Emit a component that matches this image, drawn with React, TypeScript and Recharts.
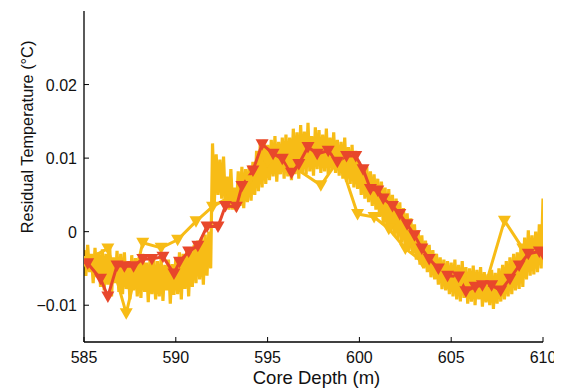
import React from 'react';
import { LineChart, Line, XAxis, YAxis } from 'recharts';

// Red series (triangle-down markers)
const redDepth = [585.2, 585.9, 586.3, 586.8, 587.2, 587.7, 588.2, 588.7, 589.3, 589.9, 590.2, 590.7, 591.2, 591.7, 592.3, 592.7, 593.3, 593.6, 594.2, 594.7, 595.3, 595.8, 596.3, 596.7, 597.2, 597.7, 598.3, 598.8, 599.3, 599.8, 600.2, 600.6, 601.0, 601.3, 601.8, 602.2, 602.6, 603.0, 603.4, 603.8, 604.3, 604.8, 605.4, 605.8, 606.3, 606.7, 607.2, 607.7, 608.2, 608.7, 609.2, 609.8, 610.0];
const redTemp = [-0.0043, -0.0064, -0.0088, -0.0046, -0.0047, -0.0047, -0.0037, -0.0037, -0.0034, -0.0057, -0.0041, -0.0027, -0.0019, 0.0007, 0.0007, 0.0035, 0.0034, 0.0062, 0.0083, 0.0119, 0.0106, 0.0099, 0.0080, 0.0092, 0.0115, 0.0106, 0.0110, 0.0095, 0.0103, 0.0103, 0.0085, 0.0058, 0.0056, 0.0045, 0.0035, 0.0024, 0.0010, -0.0005, -0.0023, -0.0037, -0.0050, -0.0060, -0.0061, -0.0081, -0.0075, -0.0073, -0.0073, -0.0080, -0.0064, -0.0046, -0.0030, -0.0027, -0.0030];

// Sparse yellow series (triangle-down markers)
const sparseDepth = [585.0, 586.3, 587.3, 588.2, 589.2, 590.1, 591.1, 592.0, 593.0, 594.0, 595.0, 596.3, 597.9, 598.9, 599.9, 600.8, 601.6, 602.5, 603.4, 604.5, 605.5, 606.9, 607.9, 608.9, 610.0];
const sparseTemp = [-0.0040, -0.0023, -0.0111, -0.0015, -0.0022, -0.0011, 0.0014, 0.0034, 0.0048, 0.0070, 0.0095, 0.0090, 0.0063, 0.0099, 0.0024, 0.0020, 0.0004, -0.0023, -0.0040, -0.0057, -0.0068, -0.0070, 0.0015, -0.0023, -0.0030];

// Dense yellow series, sampled every 0.1 m from 585.0 m
const denseStartDepth = 585.0;
const denseStepDepth = 0.1;
const denseTemp = [
  -0.0025, -0.0060, -0.0018, -0.0055, -0.0030, -0.0070, -0.0022, -0.0062, -0.0028, -0.0075,
  -0.0024, -0.0080, -0.0030, -0.0072, -0.0020, -0.0088, -0.0035, -0.0070, -0.0026, -0.0082,
  -0.0030, -0.0085, -0.0028, -0.0078, -0.0040, -0.0092, -0.0032, -0.0080, -0.0036, -0.0088,
  -0.0035, -0.0090, -0.0030, -0.0082, -0.0042, -0.0096, -0.0033, -0.0085, -0.0038, -0.0092,
  -0.0040, -0.0088, -0.0036, -0.0094, -0.0045, -0.0080, -0.0038, -0.0098, -0.0044, -0.0086,
  -0.0035, -0.0085, -0.0028, -0.0092, -0.0030, -0.0078, -0.0022, -0.0088, -0.0026, -0.0075,
  -0.0018, -0.0070, -0.0012, -0.0065, -0.0008, -0.0072, -0.0004, -0.0060, 0.0000, -0.0050,
  0.0120, 0.0040, 0.0105, 0.0050, 0.0098, 0.0045, 0.0102, 0.0038, 0.0075, 0.0030,
  0.0085, 0.0030, 0.0060, 0.0028, 0.0082, 0.0035, 0.0088, 0.0032, 0.0085, 0.0040,
  0.0090, 0.0042, 0.0095, 0.0050, 0.0110, 0.0055, 0.0120, 0.0060, 0.0125, 0.0065,
  0.0118, 0.0070, 0.0125, 0.0075, 0.0130, 0.0068, 0.0122, 0.0078, 0.0128, 0.0072,
  0.0132, 0.0075, 0.0128, 0.0070, 0.0140, 0.0078, 0.0135, 0.0072, 0.0145, 0.0080,
  0.0136, 0.0078, 0.0148, 0.0082, 0.0130, 0.0076, 0.0142, 0.0085, 0.0138, 0.0080,
  0.0132, 0.0082, 0.0140, 0.0078, 0.0128, 0.0085, 0.0135, 0.0080, 0.0125, 0.0076,
  0.0122, 0.0072, 0.0128, 0.0068, 0.0115, 0.0065, 0.0118, 0.0060, 0.0110, 0.0058,
  0.0095, 0.0050, 0.0090, 0.0045, 0.0088, 0.0040, 0.0082, 0.0035, 0.0078, 0.0030,
  0.0072, 0.0020, 0.0068, 0.0010, 0.0060, 0.0005, 0.0058, 0.0000, 0.0050, -0.0005,
  0.0045, -0.0010, 0.0040, -0.0015, 0.0032, -0.0020, 0.0025, -0.0025, 0.0018, -0.0030,
  0.0010, -0.0038, 0.0002, -0.0045, -0.0005, -0.0050, -0.0012, -0.0055, -0.0018, -0.0062,
  -0.0025, -0.0065, -0.0030, -0.0072, -0.0035, -0.0078, -0.0038, -0.0080, -0.0040, -0.0085,
  -0.0042, -0.0088, -0.0038, -0.0092, -0.0045, -0.0095, -0.0040, -0.0090, -0.0048, -0.0098,
  -0.0050, -0.0095, -0.0046, -0.0100, -0.0052, -0.0092, -0.0048, -0.0102, -0.0055, -0.0096,
  -0.0058, -0.0100, -0.0052, -0.0105, -0.0056, -0.0098, -0.0050, -0.0095, -0.0045, -0.0092,
  -0.0040, -0.0088, -0.0035, -0.0085, -0.0030, -0.0080, -0.0028, -0.0078, -0.0020, -0.0075,
  -0.0008, -0.0065, 0.0002, -0.0060, -0.0005, -0.0058, 0.0000, -0.0055, 0.0010, -0.0050,
  0.0045,
];

const xTicks = [585, 590, 595, 600, 605, 610];
const yTicks = [-0.01, 0, 0.01, 0.02];
const yTickLabels = ['\u22120.01', '0', '0.01', '0.02'];
const xDomain = [585, 610];
const yDomain = [-0.015, 0.03];

const RED = '#E8472B';
const YELLOW = '#F7BC16';
const FONT = '"Liberation Sans", Arial, Helvetica, sans-serif';

const redData = redDepth.map((d, i) => ({ d, t: redTemp[i] }));
const sparseData = sparseDepth.map((d, i) => ({ d, t: sparseTemp[i] }));
const denseData = denseTemp.map((t, i) => ({ d: +(denseStartDepth + i * denseStepDepth).toFixed(2), t }));

const makeTri = (color: string) => (props: any) => {
  const { cx, cy, index } = props;
  if (cx == null || cy == null) return <g key={`n${index}`} />;
  return (
    <polygon
      key={`tri${index}`}
      points={`${cx - 6.5},${cy - 5} ${cx + 6.5},${cy - 5} ${cx},${cy + 6.5}`}
      fill={color}
      stroke="none"
    />
  );
};

const BottomTick = (props: any) => {
  const { x, y, payload } = props;
  return (
    <g>
      <line x1={x} x2={x} y1={y} y2={y - 5} stroke="#000" strokeWidth={1} />
      <text x={x} y={y + 21} textAnchor="middle" fontSize={16} fontFamily={FONT} fill="#111">
        {payload.value}
      </text>
    </g>
  );
};

const TopTick = (props: any) => {
  const { x, y } = props;
  return <line x1={x} x2={x} y1={y} y2={y + 5} stroke="#000" strokeWidth={1} />;
};

const LeftTick = (props: any) => {
  const { x, y, payload } = props;
  const idx = yTicks.indexOf(payload.value);
  return (
    <g>
      <line x1={x} x2={x + 5} y1={y} y2={y} stroke="#000" strokeWidth={1} />
      <text x={x - 7} y={y + 6} textAnchor="end" fontSize={16} fontFamily={FONT} fill="#111">
        {idx >= 0 ? yTickLabels[idx] : payload.value}
      </text>
    </g>
  );
};

const RightTick = (props: any) => {
  const { x, y } = props;
  return <line x1={x} x2={x - 5} y1={y} y2={y} stroke="#000" strokeWidth={1} />;
};

export default function App() {
  return (
    <div style={{ position: 'relative', width: 554, height: 381, fontFamily: FONT, background: '#fff' }}>
      <LineChart width={554} height={381} margin={{ top: 3, right: 19, bottom: 0, left: 0 }}>
        <XAxis
          xAxisId="bottom"
          dataKey="d"
          type="number"
          domain={xDomain}
          ticks={xTicks}
          allowDataOverflow
          height={47}
          tickSize={0}
          tickMargin={0}
          tick={<BottomTick />}
          axisLine={{ stroke: '#000', strokeWidth: 1.3 }}
          tickLine={false}
        />
        <XAxis
          xAxisId="top"
          orientation="top"
          dataKey="d"
          type="number"
          domain={xDomain}
          ticks={xTicks}
          allowDataOverflow
          height={0}
          tickSize={0}
          tickMargin={0}
          tick={<TopTick />}
          axisLine={{ stroke: '#000', strokeWidth: 1.3 }}
          tickLine={false}
        />
        <YAxis
          yAxisId="left"
          type="number"
          domain={yDomain}
          ticks={yTicks}
          allowDataOverflow
          width={76}
          tickSize={0}
          tickMargin={0}
          tick={<LeftTick />}
          axisLine={{ stroke: '#000', strokeWidth: 1.3 }}
          tickLine={false}
        />
        <YAxis
          yAxisId="right"
          orientation="right"
          type="number"
          domain={yDomain}
          ticks={yTicks}
          allowDataOverflow
          width={0}
          tickSize={0}
          tickMargin={0}
          tick={<RightTick />}
          axisLine={{ stroke: '#000', strokeWidth: 1.3 }}
          tickLine={false}
        />
        <Line
          xAxisId="bottom"
          yAxisId="left"
          data={sparseData}
          dataKey="t"
          stroke={YELLOW}
          strokeWidth={3}
          dot={makeTri(YELLOW)}
          activeDot={false}
          isAnimationActive={false}
          strokeLinejoin="round"
        />
        <Line
          xAxisId="bottom"
          yAxisId="left"
          data={denseData}
          dataKey="t"
          stroke={YELLOW}
          strokeWidth={3.2}
          dot={false}
          activeDot={false}
          isAnimationActive={false}
          strokeLinejoin="miter"
        />
        <Line
          xAxisId="bottom"
          yAxisId="left"
          data={redData}
          dataKey="t"
          stroke={RED}
          strokeWidth={3}
          dot={makeTri(RED)}
          activeDot={false}
          isAnimationActive={false}
          strokeLinejoin="round"
        />
      </LineChart>
      <div style={{ position: 'absolute', left: 19, top: 129, width: 0, height: 0 }}>
        <div
          style={{
            position: 'absolute',
            left: 0,
            top: 0,
            transform: 'translate(-50%, -50%) rotate(-90deg)',
            whiteSpace: 'nowrap',
            fontSize: 16.3,
            color: '#111',
            lineHeight: 1,
          }}
        >
          Residual Temperature (°C)
        </div>
      </div>
      <div style={{ position: 'absolute', left: 308.5, top: 370, width: 0, height: 0 }}>
        <div
          style={{
            position: 'absolute',
            left: 0,
            top: 0,
            transform: 'translate(-50%, -50%)',
            whiteSpace: 'nowrap',
            fontSize: 18.5,
            color: '#111',
            lineHeight: 1,
          }}
        >
          Core Depth (m)
        </div>
      </div>
    </div>
  );
}
